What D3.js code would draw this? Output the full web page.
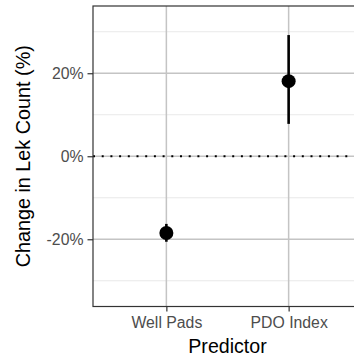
<!DOCTYPE html>
<html><head><meta charset="utf-8">
<script src="https://cdn.jsdelivr.net/npm/d3@7"></script>
<style>body{margin:0;background:#fff;} svg{display:block;font-family:"Liberation Sans",Arial,sans-serif;}</style>
</head><body>
<script>
const categories = ["Well Pads", "PDO Index"];
const estimates = [-18.5, 18.1];
const lower = [-20.6, 7.8];
const upper = [-16.3, 29.2];
const yMajorTicks = [-20, 0, 20];
const yMinorTicks = [-30, -10, 10, 30];

const W = 354, H = 361;
const m = {left: 93, top: 6, right: -8, bottom: 54.5};
const svg = d3.select("body").append("svg").attr("width", W).attr("height", H);
const pw = W - m.left - m.right, ph = H - m.top - m.bottom;

const x = d3.scalePoint().domain(categories).range([m.left, m.left + pw]).padding(0.6);
const y = d3.scaleLinear().domain([-36.2, 36.2]).range([m.top + ph, m.top]);

const g = svg.append("g");
g.selectAll(".minor").data(yMinorTicks).join("line")
  .attr("x1", m.left).attr("x2", m.left + pw)
  .attr("y1", d => y(d)).attr("y2", d => y(d))
  .attr("stroke", "#e3e3e3").attr("stroke-width", 0.8);
g.selectAll(".majy").data(yMajorTicks).join("line")
  .attr("x1", m.left).attr("x2", m.left + pw)
  .attr("y1", d => y(d)).attr("y2", d => y(d))
  .attr("stroke", "#c4c4c4").attr("stroke-width", 1.5);
g.selectAll(".majx").data(categories).join("line")
  .attr("x1", d => x(d)).attr("x2", d => x(d))
  .attr("y1", m.top).attr("y2", m.top + ph)
  .attr("stroke", "#c4c4c4").attr("stroke-width", 1.5);

g.append("line").attr("x1", m.left).attr("x2", m.left + pw)
  .attr("y1", y(0)).attr("y2", y(0))
  .attr("stroke", "#000").attr("stroke-width", 2).attr("stroke-dasharray", "2,6.7");

const idx = d3.range(categories.length);
g.selectAll(".err").data(idx).join("line")
  .attr("x1", i => x(categories[i])).attr("x2", i => x(categories[i]))
  .attr("y1", i => y(lower[i])).attr("y2", i => y(upper[i]))
  .attr("stroke", "#000").attr("stroke-width", 2.6);
g.selectAll(".pt").data(idx).join("circle")
  .attr("cx", i => x(categories[i])).attr("cy", i => y(estimates[i]))
  .attr("r", 7).attr("fill", "#000");

svg.append("rect").attr("x", m.left).attr("y", m.top).attr("width", pw).attr("height", ph)
  .attr("fill", "none").attr("stroke", "#333").attr("stroke-width", 1.2);

const ya = svg.append("g").attr("transform", `translate(${m.left},0)`)
  .call(d3.axisLeft(y).tickValues(yMajorTicks).tickSize(5.5).tickPadding(4).tickFormat(d => d + "%"));
ya.select(".domain").remove();
ya.selectAll(".tick line").attr("stroke", "#333").attr("stroke-width", 1.2);
ya.selectAll(".tick text").attr("fill", "#4d4d4d").style("font-size", "15.8px").style("font-family", "Liberation Sans, Arial, sans-serif");

const xa = svg.append("g").attr("transform", `translate(0,${m.top + ph})`)
  .call(d3.axisBottom(x).tickSize(5).tickPadding(4));
xa.select(".domain").remove();
xa.selectAll(".tick line").attr("stroke", "#333").attr("stroke-width", 1.2);
xa.selectAll(".tick text").attr("fill", "#4d4d4d").attr("dy", 0).attr("y", 21.8)
  .style("font-size", "15.8px").style("font-family", "Liberation Sans, Arial, sans-serif");

svg.append("text").attr("x", m.left + pw / 2).attr("y", 353)
  .attr("text-anchor", "middle").style("font-size", "19.6px").attr("fill", "#000").text("Predictor");
svg.append("text").attr("transform", `translate(29.5,${m.top + ph / 2}) rotate(-90)`)
  .attr("text-anchor", "middle").style("font-size", "19.8px").attr("fill", "#000").text("Change in Lek Count (%)");
</script>
</body></html>
